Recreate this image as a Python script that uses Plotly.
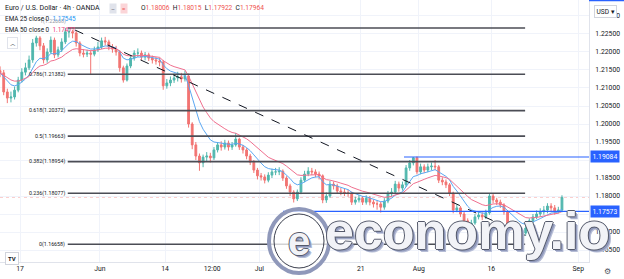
import pandas as pd
import plotly.graph_objects as go

# ---------------- data ----------------
first_open = 1.2148
closes = [1.2142, 1.2089, 1.2072, 1.2075, 1.2094, 1.2122, 1.2144, 1.2156, 1.2178, 1.2225,
          1.2239, 1.2217, 1.2178, 1.2200, 1.2233, 1.2192, 1.2206, 1.2228, 1.2256, 1.2256,
          1.2253, 1.2225, 1.2197, 1.2194, 1.2197, 1.2194, 1.2206, 1.2214, 1.2231, 1.2228,
          1.2214, 1.2208, 1.2200, 1.2156, 1.2122, 1.2161, 1.2183, 1.2197, 1.2197, 1.2186,
          1.2192, 1.2183, 1.2178, 1.2175, 1.2172, 1.2106, 1.2114, 1.2122, 1.2128, 1.2131,
          1.2125, 1.2133, 1.2000, 1.1942, 1.1911, 1.1892, 1.1908, 1.1911, 1.1906, 1.1928,
          1.1942, 1.1936, 1.1947, 1.1936, 1.1942, 1.1958, 1.1936, 1.1928, 1.1911, 1.1894,
          1.1872, 1.1856, 1.1853, 1.1844, 1.1858, 1.1867, 1.1867, 1.1869, 1.1850, 1.1828,
          1.1811, 1.1792, 1.1811, 1.1844, 1.1861, 1.1869, 1.1867, 1.1861, 1.1856, 1.1789,
          1.1800, 1.1833, 1.1828, 1.1814, 1.1811, 1.1808, 1.1808, 1.1783, 1.1789, 1.1794,
          1.1783, 1.1794, 1.1783, 1.1778, 1.1778, 1.1769, 1.1786, 1.1806, 1.1811, 1.1833,
          1.1822, 1.1831, 1.1878, 1.1892, 1.1906, 1.1867, 1.1881, 1.1872, 1.1881, 1.1883,
          1.1881, 1.1844, 1.1839, 1.1831, 1.1808, 1.1761, 1.1767, 1.1750, 1.1731, 1.1719,
          1.1725, 1.1742, 1.1747, 1.1742, 1.1753, 1.1800, 1.1789, 1.1783, 1.1775, 1.1756,
          1.1722, 1.1714, 1.1706, 1.1700, 1.1697, 1.1711, 1.1731, 1.1742, 1.1750, 1.1756,
          1.1761, 1.1772, 1.1767, 1.1758, 1.1761, 1.1796]
highs = [1.2160, 1.2150, 1.2098, 1.2090, 1.2104, 1.2131, 1.2155, 1.2170, 1.2190, 1.2236,
         1.2245, 1.2244, 1.2225, 1.2210, 1.2243, 1.2240, 1.2215, 1.2238, 1.2267, 1.2266,
         1.2262, 1.2258, 1.2230, 1.2208, 1.2206, 1.2205, 1.2215, 1.2228, 1.2240, 1.2242,
         1.2234, 1.2222, 1.2217, 1.2205, 1.2162, 1.2168, 1.2192, 1.2205, 1.2210, 1.2204,
         1.2200, 1.2198, 1.2190, 1.2186, 1.2184, 1.2178, 1.2125, 1.2132, 1.2140, 1.2145,
         1.2142, 1.2148, 1.2140, 1.2005, 1.1950, 1.1918, 1.1915, 1.1922, 1.1920, 1.1936,
         1.1950, 1.1952, 1.1956, 1.1954, 1.1950, 1.1975, 1.1962, 1.1942, 1.1933, 1.1917,
         1.1900, 1.1878, 1.1864, 1.1860, 1.1866, 1.1876, 1.1878, 1.1880, 1.1874, 1.1855,
         1.1834, 1.1816, 1.1818, 1.1852, 1.1870, 1.1880, 1.1878, 1.1874, 1.1868, 1.1860,
         1.1810, 1.1842, 1.1840, 1.1834, 1.1822, 1.1820, 1.1818, 1.1812, 1.1798, 1.1803,
         1.1800, 1.1802, 1.1800, 1.1790, 1.1788, 1.1784, 1.1794, 1.1814, 1.1822, 1.1842,
         1.1840, 1.1840, 1.1886, 1.1900, 1.1908, 1.1910, 1.1890, 1.1888, 1.1890, 1.1893,
         1.1900, 1.1886, 1.1852, 1.1846, 1.1836, 1.1812, 1.1776, 1.1772, 1.1756, 1.1738,
         1.1734, 1.1750, 1.1756, 1.1755, 1.1762, 1.1806, 1.1806, 1.1795, 1.1790, 1.1780,
         1.1760, 1.1728, 1.1720, 1.1712, 1.1708, 1.1720, 1.1738, 1.1750, 1.1760, 1.1766,
         1.1772, 1.1780, 1.1780, 1.1775, 1.1770, 1.1802]
lows = [1.2130, 1.2080, 1.2058, 1.2060, 1.2068, 1.2088, 1.2115, 1.2135, 1.2150, 1.2170,
        1.2215, 1.2205, 1.2168, 1.2170, 1.2195, 1.2183, 1.2185, 1.2200, 1.2222, 1.2240,
        1.2238, 1.2215, 1.2188, 1.2185, 1.2186, 1.2136, 1.2188, 1.2200, 1.2208, 1.2218,
        1.2205, 1.2198, 1.2190, 1.2145, 1.2115, 1.2118, 1.2155, 1.2176, 1.2186, 1.2178,
        1.2177, 1.2175, 1.2168, 1.2165, 1.2160, 1.2095, 1.2098, 1.2105, 1.2114, 1.2118,
        1.2115, 1.2118, 1.1990, 1.1930, 1.1900, 1.1870, 1.1880, 1.1897, 1.1893, 1.1900,
        1.1921, 1.1926, 1.1929, 1.1926, 1.1928, 1.1937, 1.1928, 1.1918, 1.1902, 1.1886,
        1.1864, 1.1846, 1.1843, 1.1835, 1.1838, 1.1850, 1.1858, 1.1858, 1.1842, 1.1820,
        1.1800, 1.1782, 1.1786, 1.1805, 1.1838, 1.1855, 1.1858, 1.1852, 1.1846, 1.1780,
        1.1781, 1.1795, 1.1818, 1.1806, 1.1802, 1.1800, 1.1798, 1.1775, 1.1776, 1.1782,
        1.1775, 1.1776, 1.1774, 1.1768, 1.1762, 1.1754, 1.1762, 1.1780, 1.1798, 1.1805,
        1.1812, 1.1815, 1.1825, 1.1870, 1.1885, 1.1860, 1.1860, 1.1864, 1.1866, 1.1872,
        1.1872, 1.1836, 1.1830, 1.1822, 1.1800, 1.1752, 1.1755, 1.1742, 1.1724, 1.1710,
        1.1712, 1.1720, 1.1735, 1.1733, 1.1736, 1.1748, 1.1780, 1.1775, 1.1767, 1.1748,
        1.1714, 1.1705, 1.1696, 1.1688, 1.1666, 1.1690, 1.1705, 1.1725, 1.1736, 1.1742,
        1.1748, 1.1752, 1.1755, 1.1748, 1.1752, 1.1755]

first_day, last_day = "2021-05-12", "2021-08-27"
bar_hours = [6, 18]

y_ticks = [1.165, 1.170, 1.175, 1.180, 1.185, 1.190, 1.195, 1.200,
           1.205, 1.210, 1.215, 1.220, 1.225, 1.230]
# 1.17500 and 1.19000 are hidden under the blue price labels in the reference
y_tick_text = ["1.16500", "1.17000", "", "1.18000", "1.18500", "", "1.19500", "1.20000",
               "1.20500", "1.21000", "1.21500", "1.22000", "1.22500", "1.23000"]
x_tick_dates = ["2021-05-17", "2021-06-01", "2021-06-14", "2021-06-22 12:00", "2021-07-01",
                "2021-07-21", "2021-08-02", "2021-08-16", "2021-09-01"]
x_tick_text = ["17", "Jun", "14", "12:00", "Jul", "21", "Aug", "16", "Sep"]

fib_ratios = ["1", "0.786", "0.618", "0.5", "0.382", "0.236", "0"]
fib_levels = [1.22668, 1.21382, 1.20372, 1.19663, 1.18954, 1.18077, 1.16658]
fib_start, fib_end = "2021-05-25 14:00", "2021-08-20 16:00"

trend_x = ["2021-05-26 14:00", "2021-08-20 18:00"]
trend_y = [1.2261, 1.1690]

hlines = [1.19084, 1.17573]
hline_starts = ["2021-07-28 23:00", "2021-07-06 07:00"]
last_price = 1.17964

ohlc_labels = ["O", "H", "L", "C"]
ohlc_values = ["1.18006", "1.18015", "1.17922", "1.17964"]
ema25_value, ema50_value = "1.17545", "1.17471"

x_range = ["2021-05-12 05:45", "2021-09-02 11:30"]
y_range = [1.16167, 1.23444]

# ---------------- build ----------------
times = []
for d in pd.bdate_range(first_day, last_day):
    for h in bar_hours:
        times.append(d + pd.Timedelta(hours=h))
opens = [first_open] + closes[:-1]

cs = pd.Series(closes)
ema25 = cs.ewm(span=8.37, adjust=False).mean()   # EMA 25 on 4h bars -> 12h bars
ema50 = cs.ewm(span=16.35, adjust=False).mean()  # EMA 50 on 4h bars -> 12h bars

W, H = 624, 279
PW, PH = 589, 262


def px(x):
    return x / PW


def py(y):
    return 1 - y / PH


FONT = "Roboto"
TXT = "#131722"
BLUE = "#2962ff"

fig = go.Figure()
fig.add_trace(go.Candlestick(
    x=times, open=opens, high=highs, low=lows, close=closes,
    increasing=dict(line=dict(color="#26a69a", width=1), fillcolor="#26a69a"),
    decreasing=dict(line=dict(color="#ef5350", width=1), fillcolor="#ef5350"),
    whiskerwidth=0, opacity=0.8, hoverinfo="skip", showlegend=False))
fig.add_trace(go.Scatter(x=times, y=ema25, mode="lines",
                         line=dict(color="#5aa7f2", width=1), hoverinfo="skip", showlegend=False))
fig.add_trace(go.Scatter(x=times, y=ema50, mode="lines",
                         line=dict(color="#f0708f", width=1), hoverinfo="skip", showlegend=False))

shapes = []
# last price line
shapes.append(dict(type="line", xref="paper", x0=0, x1=1, yref="y", y0=last_price, y1=last_price,
                   line=dict(color="rgba(239,83,80,0.35)", width=1, dash="dot"), layer="below"))
# fib levels
for lv in fib_levels:
    shapes.append(dict(type="line", xref="x", x0=fib_start, x1=fib_end, yref="y", y0=lv, y1=lv,
                       line=dict(color="#4b4d55", width=1.6)))
# trend line
shapes.append(dict(type="line", xref="x", x0=trend_x[0], x1=trend_x[1], yref="y",
                   y0=trend_y[0], y1=trend_y[1], line=dict(color="#131722", width=1, dash="dash")))
# blue horizontal lines
for lv, st in zip(hlines, hline_starts):
    shapes.append(dict(type="line", xref="x", x0=st, x1="2021-09-10", yref="y", y0=lv, y1=lv,
                       line=dict(color=BLUE, width=1.2)))
# top blue bar over price scale
shapes.append(dict(type="line", xref="paper", x0=px(589), x1=px(624), yref="paper", y0=py(0.5), y1=py(0.5),
                   line=dict(color=BLUE, width=1.5)))
# watermark circle logo
shapes.append(dict(type="circle", xref="paper", yref="paper", x0=px(269), x1=px(329),
                   y0=py(273), y1=py(209), line=dict(color="#8f98ba", width=4),
                   fillcolor="rgba(255,255,255,0.75)"))
shapes.append(dict(type="circle", xref="paper", yref="paper", x0=px(274), x1=px(324),
                   y0=py(268), y1=py(214), line=dict(color="#3b3f4e", width=1),
                   fillcolor="rgba(0,0,0,0)"))

ann = []
# fib labels
for r, lv in zip(fib_ratios, fib_levels):
    label = f"{r}({lv:.5f})"
    if r == "1":
        ann.append(dict(xref="x", yref="y", x=fib_start, y=lv, text=label, showarrow=False,
                        xanchor="right", yanchor="bottom", yshift=1,
                        font=dict(family=FONT, size=5.3, color="#9598a1")))
    else:
        ann.append(dict(xref="x", yref="y", x=fib_start, y=lv, text=label, showarrow=False,
                        xanchor="right", yanchor="middle", xshift=-1,
                        font=dict(family=FONT, size=5.3, color=TXT)))
# price scale labels for blue lines
for lv in hlines:
    ann.append(dict(xref="paper", yref="y", x=px(590), y=lv, text=f"{lv:.5f}", showarrow=False,
                    xanchor="left", yanchor="middle", bgcolor=BLUE, borderpad=1.5,
                    font=dict(family=FONT, size=6.8, color="white")))
# legend header
ann.append(dict(xref="paper", yref="paper", x=px(3), y=py(8), xanchor="left", yanchor="middle",
                text="Euro / U.S. Dollar · 4h · OANDA", showarrow=False,
                font=dict(family=FONT, size=7, color=TXT)))
ann.append(dict(xref="paper", yref="paper", x=px(113), y=py(8), xanchor="center", yanchor="middle",
                text="–", showarrow=False, bgcolor="#e0e3eb", borderpad=1,
                font=dict(family=FONT, size=6, color="#50535e")))
ann.append(dict(xref="paper", yref="paper", x=px(124), y=py(8), xanchor="center", yanchor="middle",
                text="≡", showarrow=False, bgcolor="#fbd5d8", borderpad=1,
                font=dict(family=FONT, size=6, color="#ef5350")))
ohlc_txt = "  ".join(f"{l}<span style='color:#ef5350'>{v}</span>" for l, v in zip(ohlc_labels, ohlc_values))
ann.append(dict(xref="paper", yref="paper", x=px(139), y=py(8), xanchor="left", yanchor="middle",
                text=ohlc_txt, showarrow=False, font=dict(family=FONT, size=6.6, color=TXT)))
ann.append(dict(xref="paper", yref="paper", x=px(3), y=py(19), xanchor="left", yanchor="middle",
                text=f"EMA 25 close 0  <span style='color:#2196f3'>{ema25_value}</span>", showarrow=False,
                font=dict(family=FONT, size=6.4, color=TXT)))
ann.append(dict(xref="paper", yref="paper", x=px(3), y=py(30), xanchor="left", yanchor="middle",
                text=f"EMA 50 close 0  <span style='color:#ec407a'>{ema50_value}</span>", showarrow=False,
                font=dict(family=FONT, size=6.4, color=TXT)))
ann.append(dict(xref="paper", yref="paper", x=px(12), y=py(43), xanchor="center", yanchor="middle",
                text="︿", showarrow=False, bordercolor="#e0e3eb", borderwidth=1, borderpad=1.5,
                bgcolor="white", font=dict(family=FONT, size=6, color=TXT)))
# USD box
ann.append(dict(xref="paper", yref="paper", x=px(605), y=py(12), xanchor="center", yanchor="middle",
                text="USD ▾", showarrow=False, bordercolor="#d1d4dc", borderwidth=1, borderpad=1.5,
                bgcolor="white", font=dict(family=FONT, size=6.6, color=TXT)))
# TradingView logo and settings gear
ann.append(dict(xref="paper", yref="paper", x=px(12), y=py(258), xanchor="center", yanchor="middle",
                text="<b>TV</b>", showarrow=False, bordercolor="#d1d4dc", borderwidth=1, borderpad=2,
                bgcolor="white", font=dict(family=FONT, size=6, color=TXT)))
ann.append(dict(xref="paper", yref="paper", x=px(607), y=py(271), xanchor="center", yanchor="middle",
                text="⚙", showarrow=False, font=dict(family="DejaVu Sans", size=8, color="#50535e")))
# watermark
wm_shadow = ("1px 0 0 #555a6b, -1px 0 0 #555a6b, 0 1px 0 #555a6b, 0 -1px 0 #555a6b, "
             "2px 2px 0 #8f98ba, 3px 3px 0 #b6bdd6")
ann.append(dict(xref="paper", yref="paper", x=px(299), y=py(241), xanchor="center", yanchor="middle",
                text="<b>e</b>", showarrow=False,
                font=dict(family="Liberation Sans", size=40, color="#f2f3f7", shadow=wm_shadow)))
ann.append(dict(xref="paper", yref="paper", x=px(323), y=py(262), xanchor="left", yanchor="bottom",
                text="<b>economy.io</b>", showarrow=False,
                font=dict(family="Liberation Sans", size=52, color="#f2f3f7", shadow=wm_shadow)))

fig.update_layout(
    width=W, height=H, margin=dict(l=0, r=W - PW, t=0, b=H - PH),
    paper_bgcolor="white", plot_bgcolor="white", showlegend=False,
    shapes=shapes, annotations=ann,
    xaxis=dict(type="date", range=x_range, rangeslider=dict(visible=False),
               rangebreaks=[dict(bounds=["sat", "mon"])],
               tickvals=x_tick_dates, ticktext=x_tick_text, showgrid=True, gridcolor="#f0f3fa",
               gridwidth=1, ticks="", showline=True, linecolor="#e0e3eb", linewidth=1,
               tickfont=dict(family=FONT, size=6.8, color=TXT), zeroline=False),
    yaxis=dict(side="right", range=y_range, tickvals=y_ticks, ticktext=y_tick_text,
               showgrid=True, gridcolor="#f0f3fa", gridwidth=1, ticks="", showline=True,
               linecolor="#e0e3eb", linewidth=1, zeroline=False, ticklabelstandoff=4,
               tickfont=dict(family=FONT, size=6.8, color=TXT)),
)
fig.write_html("out.html")
